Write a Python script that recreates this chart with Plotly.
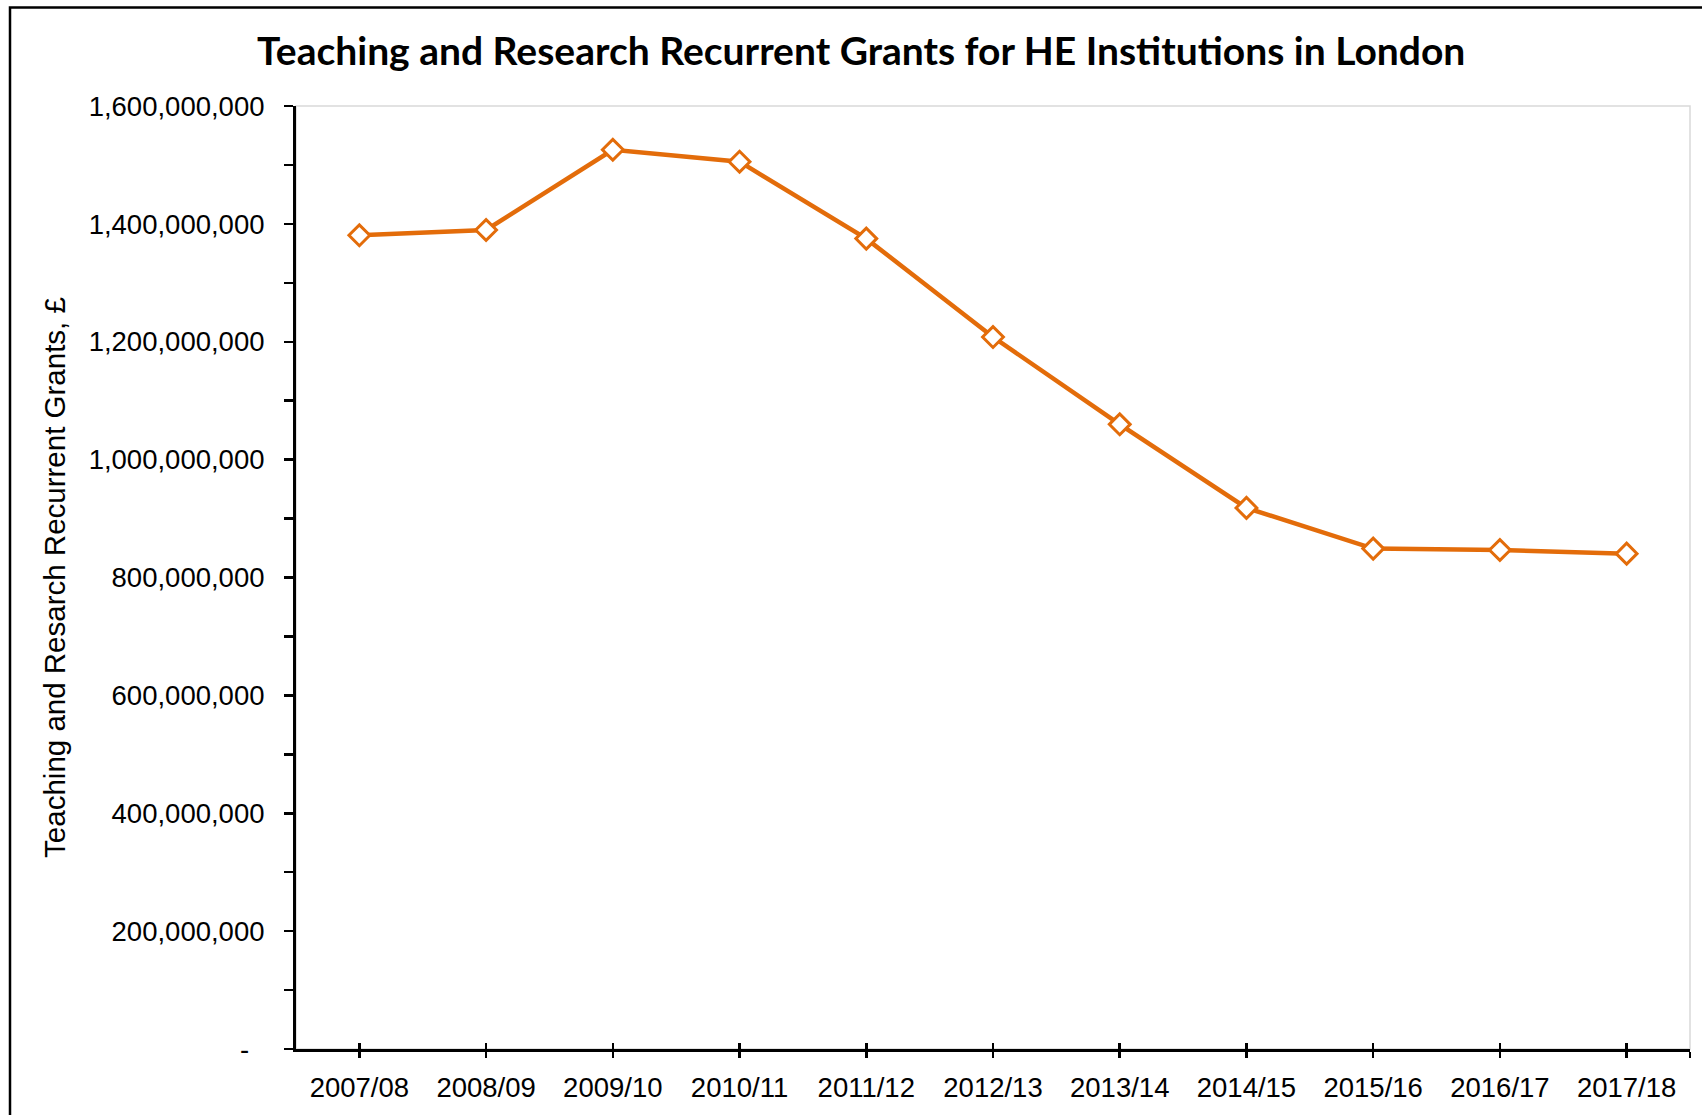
import plotly.graph_objects as go

categories = ["2007/08", "2008/09", "2009/10", "2010/11", "2011/12", "2012/13",
              "2013/14", "2014/15", "2015/16", "2016/17", "2017/18"]
grants = [1380600000, 1389600000, 1525800000, 1505500000, 1375000000, 1208000000,
          1059900000, 918100000, 849000000, 846700000, 840500000]

y_tickvals = [0, 200000000, 400000000, 600000000, 800000000, 1000000000,
              1200000000, 1400000000, 1600000000]
y_ticktext = ["-\u00a0\u00a0"] + [f"{v:,}" for v in y_tickvals[1:]]

title_text = "Teaching and Research Recurrent Grants for HE Institutions in London"
y_title = "Teaching and Resarch Recurrent Grants, \u00a3"

orange = "#E36C0A"
W, H = 1702, 1115
L, R, T, B = 296, 12, 106, 61
pw, ph = W - L - R, H - T - B

xs = list(range(len(categories)))

fig = go.Figure()
fig.add_trace(go.Scatter(
    x=xs, y=grants, mode="lines+markers",
    line=dict(color=orange, width=4.5),
    marker=dict(symbol="diamond", size=16, color="white",
                line=dict(color=orange, width=3)),
    showlegend=False, hoverinfo="skip",
))
# invisible trace on overlay axis for inward x ticks
fig.add_trace(go.Scatter(x=[xs[0]], y=[grants[0]], xaxis="x2", mode="markers",
                         marker=dict(opacity=0), showlegend=False, hoverinfo="skip"))

xrange = [-0.5, len(categories) - 0.5]
fig.update_layout(
    width=W, height=H,
    margin=dict(l=L, r=R, t=T, b=B),
    paper_bgcolor="white", plot_bgcolor="white",
    font=dict(family="Liberation Sans, Arial", color="black", size=28),
    title=dict(text=title_text, x=0.506, xanchor="center", y=1 - 51 / H, yanchor="middle",
               font=dict(family="Lato", size=39, color="black", weight="bold")),
    xaxis=dict(
        range=xrange, tickmode="array",
        tickvals=xs + [xrange[1]], ticktext=categories + [""],
        ticks="outside", ticklen=6, tickwidth=2.5, tickcolor="black",
        showline=True, linecolor="black", linewidth=3, showgrid=False, zeroline=False,
        tickfont=dict(size=27.5), ticklabelstandoff=6,
    ),
    xaxis2=dict(
        range=xrange, overlaying="x", tickmode="array",
        tickvals=xs + [xrange[1]], ticktext=[""] * (len(xs) + 1),
        ticks="inside", ticklen=6, tickwidth=2.5, tickcolor="black",
        showline=False, showgrid=False, zeroline=False, showticklabels=False,
    ),
    yaxis=dict(
        range=[0, 1600000000], tickmode="array",
        tickvals=y_tickvals, ticktext=y_ticktext,
        ticks="outside", ticklen=9, tickwidth=2.5, tickcolor="black",
        minor=dict(dtick=100000000, ticks="outside", ticklen=9, tickwidth=2.5,
                   tickcolor="black", showgrid=False),
        showline=True, linecolor="black", linewidth=3, showgrid=False, zeroline=False,
        tickfont=dict(size=27.5), ticklabelstandoff=14,
        title=dict(text=y_title, font=dict(size=29.5), standoff=15),
    ),
    shapes=[
        dict(type="rect", xref="paper", yref="paper", x0=0, x1=1, y0=0, y1=1,
             line=dict(color="#D9D9D9", width=1.5), layer="below"),
        dict(type="rect", xref="paper", yref="paper",
             x0=(10 - L) / pw, x1=(W + 20 - L) / pw,
             y0=-(B + 20) / ph, y1=1 + (T - 7) / ph,
             line=dict(color="black", width=2.5), layer="below"),
    ],
)

fig.write_html("out.html", config={"displayModeBar": False, "staticPlot": True})

# remove the browser's default body margin so the figure sits at the page origin
with open("out.html", "r", encoding="utf-8") as f:
    html = f.read()
html = html.replace("<head>", "<head><style>html,body{margin:0;padding:0;overflow:hidden;}</style>", 1)
with open("out.html", "w", encoding="utf-8") as f:
    f.write(html)
